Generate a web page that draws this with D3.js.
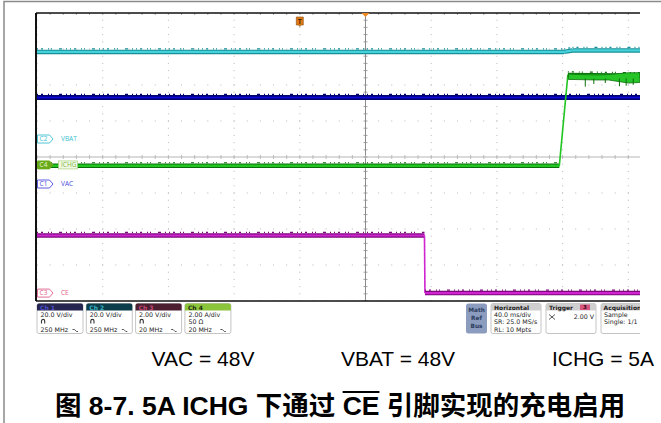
<!DOCTYPE html>
<html lang="zh">
<head>
<meta charset="UTF-8">
<title>CE charge enable</title>
<style>
  body { margin: 0; background: #fff; }
  svg { display: block; font-family: "Liberation Sans", Arial, sans-serif; }
</style>
</head>
<body>
<script src="https://d3js.org/d3.v7.min.js"></script>
<script>
// scope settings: 40 ms/div, trigger centred, screen cropped near +167 ms
var timeDomain = [-200, 200];
var divDomain = [-4, 4];

// traces, [time ms, value in channel units]
var vac = [[-200, 48.0], [170, 48.0]];
var vbat = [[-200, 48.4], [121, 48.4], [126, 49.2], [170, 49.2]];
var ce = [[-200, 3.2], [35.9, 3.2], [36.2, 0], [170, 0]];
var ichg = [[-200, -0.05], [118, -0.05], [123.2, 5.0], [170, 4.95]];

// noise envelope on ICHG once charging starts
var ichgBandT  = [123.5, 130, 140, 148, 155, 160, 167];
var ichgBandHi = [5.05, 5.02, 5.0, 5.02, 5.08, 5.12, 5.12];
var ichgBandLo = [4.75, 4.74, 4.72, 4.72, 4.62, 4.55, 4.58];
var ichgSpikes = [[133.8, 4.35], [139, 4.5], [146, 4.55], [154.6, 4.37], [158.7, 4.4], [163, 4.45]];

// channels
var chIds = ["C1", "C2", "C3", "C4"];
var chNames = ["VAC", "VBAT", "CE", "ICHG"];
var chPerDiv = [20, 20, 2, 2];
var chOffsetDiv = [-0.75, 0.5, -3.78, -0.22];

// readout panels
var panelTitles = ["Ch 1", "Ch 2", "Ch 3", "Ch 4"];
var panelScales = ["20.0 V/div", "20.0 V/div", "2.00 V/div", "2.00 A/div"];
var panelBw = ["250 MHz", "250 MHz", "20 MHz", "20 MHz"];
var ch4Term = "50 \u03A9";
var horizLines = ["40.0 ms/div", "SR: 25.0 MS/s", "RL: 10 Mpts"];
var trigLevel = "2.00 V";
var trigSource = "3";
var acqLines = ["Sample", "Single: 1/1"];

var notes = ["VAC = 48V", "VBAT = 48V", "ICHG = 5A"];
var captionParts = ["\u56FE 8-7. 5A ICHG \u4E0B\u901A\u8FC7 ", "CE", " \u5F15\u811A\u5B9E\u73B0\u7684\u5145\u7535\u542F\u7528"];

var W = 661, H = 423;
var plot = {left: 36, right: 640, top: 13, bottom: 301};

var x = d3.scaleLinear().domain(timeDomain).range([37, 694]);
var yDiv = d3.scaleLinear().domain(divDomain).range([plot.bottom, plot.top]);
function yCh(i) { return function(v) { return yDiv(v / chPerDiv[i] + chOffsetDiv[i]); }; }

var svg = d3.select("body").append("svg")
    .attr("width", W).attr("height", H);

// outer frame
svg.append("path").attr("d", "M4,423V1.5H661")
    .attr("fill", "none").attr("stroke", "#8a8a8a").attr("stroke-width", 1.5);

svg.append("clipPath").attr("id", "plotclip")
  .append("rect").attr("x", plot.left).attr("y", plot.top)
    .attr("width", plot.right - plot.left).attr("height", plot.bottom - plot.top);

var g = svg.append("g").attr("clip-path", "url(#plotclip)");

// grid
var xDivs = d3.range(-200, 201, 40), yDivs = d3.range(-4, 5, 1);
var grid = g.append("g").attr("fill", "#b8b8b8");
xDivs.forEach(function(t) {
  if (t === 0) return;
  d3.range(-4, 4.01, 0.2).forEach(function(d) {
    grid.append("rect").attr("x", x(t) - 0.5).attr("y", yDiv(d) - 0.5).attr("width", 1).attr("height", 1);
  });
});
yDivs.forEach(function(d) {
  if (d === 0) return;
  d3.range(-200, 200.01, 8).forEach(function(t) {
    grid.append("rect").attr("x", x(t) - 0.5).attr("y", yDiv(d) - 0.5).attr("width", 1).attr("height", 1);
  });
});
// centre lines with minor ticks
g.append("line").attr("x1", x(0)).attr("x2", x(0)).attr("y1", plot.top).attr("y2", plot.bottom)
    .attr("stroke", "#8c8c8c").attr("stroke-width", 1);
g.append("line").attr("x1", plot.left).attr("x2", plot.right).attr("y1", yDiv(0)).attr("y2", yDiv(0))
    .attr("stroke", "#b5b5b5").attr("stroke-width", 1);
g.append("g").selectAll("line").data(d3.range(-4, 4.01, 0.2)).join("line")
    .attr("x1", x(0) - 2).attr("x2", x(0) + 2).attr("y1", yDiv).attr("y2", yDiv)
    .attr("stroke", "#8c8c8c").attr("stroke-width", 0.8);
g.append("g").selectAll("line").data(d3.range(-200, 200.01, 8)).join("line")
    .attr("x1", x).attr("x2", x).attr("y1", yDiv(0) - 2).attr("y2", yDiv(0) + 2)
    .attr("stroke", "#b0b0b0").attr("stroke-width", 0.8);
// border ticks
g.append("g").selectAll("line").data(d3.range(-200, 200.01, 8)).join("line")
    .attr("x1", x).attr("x2", x).attr("y1", plot.top).attr("y2", plot.top + 2)
    .attr("stroke", "#999").attr("stroke-width", 0.8);

// traces
var traceStyles = [
  {data: vac, ch: 0, outer: "#00006e", inner: "#0a0acc", wOut: 5, wIn: 2},
  {data: vbat, ch: 1, outer: "#178e98", inner: "#46d2da", wOut: 4.5, wIn: 2.2},
  {data: ce, ch: 2, outer: "#7c087c", inner: "#d024d0", wOut: 4.5, wIn: 2.2},
  {data: ichg, ch: 3, outer: "#0b6e0b", inner: "#22c622", wOut: 4.5, wIn: 2.4}
];

function drawTrace(s) {
  var yf = yCh(s.ch);
  var pts = s.data.map(function(d) { return [x(d[0]), yf(d[1])]; });
  var tg = g.append("g").attr("fill", "none").attr("stroke-linecap", "butt");
  for (var i = 0; i < pts.length - 1; i++) {
    var a = pts[i], b = pts[i + 1];
    var steep = Math.abs(b[1] - a[1]) > Math.abs(b[0] - a[0]);
    if (steep) {
      tg.append("line").attr("x1", a[0]).attr("y1", a[1]).attr("x2", b[0]).attr("y2", b[1])
        .attr("stroke", s.inner).attr("stroke-width", 1.6);
    } else {
      tg.append("line").attr("x1", a[0]).attr("y1", a[1]).attr("x2", b[0]).attr("y2", b[1])
        .attr("stroke", s.outer).attr("stroke-width", s.wOut);
      tg.append("line").attr("x1", a[0]).attr("y1", a[1]).attr("x2", b[0]).attr("y2", b[1])
        .attr("stroke", s.inner).attr("stroke-width", s.wIn);
      // little noise dashes riding on the trace
      tg.append("line").attr("x1", a[0]).attr("y1", a[1] - s.wOut / 2 - 0.8)
        .attr("x2", b[0]).attr("y2", b[1] - s.wOut / 2 - 0.8)
        .attr("stroke", s.outer).attr("stroke-width", 1.2)
        .attr("stroke-dasharray", "1 3 2 5 1 2 1 7 3 4 1 3");
    }
  }
}
traceStyles.forEach(drawTrace);

// ICHG noise band
var y4 = yCh(3);
var band = ichgBandT.map(function(t, i) { return {t: t, hi: ichgBandHi[i], lo: ichgBandLo[i]}; });
g.append("path").datum(band)
    .attr("d", d3.area().x(function(d) { return x(d.t); })
      .y0(function(d) { return y4(d.lo); }).y1(function(d) { return y4(d.hi); }))
    .attr("fill", "#26c426").attr("stroke", "#0b6e0b").attr("stroke-width", 0.8);
g.append("g").selectAll("line").data(ichgSpikes).join("line")
    .attr("x1", function(d) { return x(d[0]); }).attr("x2", function(d) { return x(d[0]); })
    .attr("y1", y4(4.8)).attr("y2", function(d) { return y4(d[1]); })
    .attr("stroke", "#0b6e0b").attr("stroke-width", 1);

// plot frame
svg.append("line").attr("x1", plot.left).attr("x2", plot.right).attr("y1", plot.top).attr("y2", plot.top)
    .attr("stroke", "#111").attr("stroke-width", 1.5);
svg.append("line").attr("x1", plot.left).attr("x2", plot.left).attr("y1", plot.top).attr("y2", plot.bottom)
    .attr("stroke", "#111").attr("stroke-width", 2);
svg.append("line").attr("x1", plot.left).attr("x2", plot.right).attr("y1", plot.bottom).attr("y2", plot.bottom)
    .attr("stroke", "#111").attr("stroke-width", 1.5);

// position and trigger markers
svg.append("path").attr("d", "M" + (x(0) - 4) + "," + plot.top + "h8l-4,4z").attr("fill", "#f08a20");
var trigX = x(-40);
svg.append("path").attr("d", "M" + (trigX - 3.5) + ",17h7v8h-2.5l-1,1.5l-1,-1.5h-2.5z")
    .attr("fill", "#e07b18").attr("stroke", "#8a4a0a").attr("stroke-width", 0.6);
svg.append("text").attr("x", trigX).attr("y", 23.8).attr("text-anchor", "middle")
    .attr("font-size", 6.5).attr("font-weight", "bold").attr("fill", "#3a2205").text("T");

// channel markers on the left
var chColors = ["#4a4ae0", "#3cbfd0", "#e0608a", "#6aaa1a"];
var chLabelY = chOffsetDiv.map(function(d) { return yDiv(d); });
chIds.forEach(function(id, i) {
  var yy = chLabelY[i];
  var filled = (i === 3);
  svg.append("path").attr("d", "M37.5," + (yy - 4) + "h12l3.5,4l-3.5,4h-12z")
    .attr("fill", filled ? chColors[i] : "#fff").attr("stroke", chColors[i]).attr("stroke-width", 0.9);
  svg.append("text").attr("x", 43.5).attr("y", yy + 2.4).attr("text-anchor", "middle")
    .attr("font-family", "Open Sans, sans-serif").attr("font-size", 6.5)
    .attr("fill", filled ? "#e9f6d6" : chColors[i]).text(id);
  if (filled) {
    svg.append("rect").attr("x", 58.5).attr("y", yy - 4).attr("width", 19).attr("height", 8)
      .attr("fill", "#f1f8e6").attr("stroke", "#a9d07c").attr("stroke-width", 0.7);
  }
  svg.append("text").attr("x", 61).attr("y", yy + 2.4)
    .attr("font-family", "Open Sans, sans-serif").attr("font-size", 6.5)
    .attr("fill", filled ? "#7fb83c" : chColors[i]).text(chNames[i]);
});

// readout panels
var panelFont = "DejaVu Sans, sans-serif";
var fs = 6.3, lineGap = 7.4;
var headFills = ["#25254f", "#0c3d4a", "#4b1f30", "#8cc43c"];
var headText = ["#4f4fd0", "#3ab5c6", "#c84a78", "#1e2a10"];
function panelBox(x0, w, head, headFill, headColor) {
  var pg = svg.append("g");
  pg.append("rect").attr("x", x0).attr("y", 303.5).attr("width", w).attr("height", 30)
    .attr("rx", 2).attr("fill", "#fff").attr("stroke", "#b5b5b5").attr("stroke-width", 0.8);
  pg.append("path").attr("d", "M" + x0 + ",310.5V305.5a2,2 0 0 1 2,-2h" + (w - 4) + "a2,2 0 0 1 2,2V310.5z")
    .attr("fill", headFill);
  pg.append("text").attr("x", x0 + 3).attr("y", 309.5).attr("font-family", panelFont)
    .attr("font-size", 6).attr("font-weight", "bold").attr("fill", headColor).text(head);
  return pg;
}
function bodyLine(pg, x0, yy, str) {
  pg.append("text").attr("x", x0).attr("y", yy).attr("font-family", panelFont)
    .attr("font-size", fs).attr("fill", "#222").text(str);
}
panelTitles.forEach(function(t, i) {
  var x0 = 37 + i * 49.3;
  var pg = panelBox(x0, 46, t, headFills[i], headText[i]);
  bodyLine(pg, x0 + 3.5, 317, panelScales[i]);
  if (i === 3) bodyLine(pg, x0 + 3.5, 317 + lineGap, ch4Term);
  else pg.append("path").attr("d", "M" + (x0 + 4.5) + ",323.5v-2.5a1.6,1.6 0 0 1 3.2,0v2.5")
    .attr("fill", "none").attr("stroke", "#333").attr("stroke-width", 1.1);
  bodyLine(pg, x0 + 3.5, 317 + 2 * lineGap, panelBw[i]);
  pg.append("path").attr("d", "M" + (x0 + 35.5) + ",329.5h2l2,2h1.5")
    .attr("fill", "none").attr("stroke", "#333").attr("stroke-width", 0.8);
});

// math / ref / bus button
svg.append("rect").attr("x", 466).attr("y", 303.5).attr("width", 21).attr("height", 30)
  .attr("rx", 2.5).attr("fill", "#8b9cbf");
["Math", "Ref", "Bus"].forEach(function(s, i) {
  svg.append("text").attr("x", 476.5).attr("y", 312 + i * 8).attr("text-anchor", "middle")
    .attr("font-family", panelFont).attr("font-size", 5.8).attr("font-weight", "bold")
    .attr("fill", "#2c3c5e").text(s);
});

var hp = panelBox(491, 50, "Horizontal", "#cfcfcf", "#222");
horizLines.forEach(function(s, i) { bodyLine(hp, 494, 317 + i * lineGap, s); });

var tp = panelBox(546, 50, "Trigger", "#cfcfcf", "#222");
tp.append("rect").attr("x", 580).attr("y", 304.5).attr("width", 10).attr("height", 5.5).attr("fill", "#d6557e");
tp.append("text").attr("x", 585).attr("y", 309.3).attr("text-anchor", "middle").attr("font-family", panelFont)
  .attr("font-size", 5.5).attr("font-weight", "bold").attr("fill", "#3a0a1a").text(trigSource);
tp.append("path").attr("d", "M549,314.5l3,2.5l-3,2.5M555,314.5l-3,2.5l3,2.5")
  .attr("fill", "none").attr("stroke", "#333").attr("stroke-width", 0.8);
tp.append("text").attr("x", 594).attr("y", 319).attr("text-anchor", "end").attr("font-family", panelFont)
  .attr("font-size", fs).attr("fill", "#222").text(trigLevel);

svg.append("clipPath").attr("id", "acqclip").append("rect").attr("x", 598).attr("y", 300).attr("width", 42).attr("height", 40);
var acqG = svg.append("g").attr("clip-path", "url(#acqclip)");
acqG.append("rect").attr("x", 601).attr("y", 303.5).attr("width", 50).attr("height", 30)
  .attr("rx", 2).attr("fill", "#fff").attr("stroke", "#b5b5b5").attr("stroke-width", 0.8);
acqG.append("path").attr("d", "M601,310.5V305.5a2,2 0 0 1 2,-2h46a2,2 0 0 1 2,2V310.5z").attr("fill", "#cfcfcf");
acqG.append("text").attr("x", 603.5).attr("y", 309.5).attr("font-family", panelFont)
  .attr("font-size", 6).attr("font-weight", "bold").attr("fill", "#222").text("Acquisition");
acqLines.forEach(function(s, i) {
  acqG.append("text").attr("x", 604).attr("y", 317 + i * lineGap).attr("font-family", panelFont)
    .attr("font-size", fs).attr("fill", "#222").text(s);
});

// conditions line
var noteX = [203, 398, 603];
notes.forEach(function(s, i) {
  svg.append("text").attr("x", noteX[i]).attr("y", 366).attr("text-anchor", "middle")
    .attr("font-size", 21).attr("fill", "#000").text(s);
});

// caption with overlined CE
var cap = svg.append("text").attr("x", 55).attr("y", 415)
  .attr("font-family", "Liberation Sans, Noto Sans CJK SC, sans-serif")
  .attr("font-size", 26.5).attr("font-weight", "bold").attr("fill", "#000");
captionParts.forEach(function(s) { cap.append("tspan").text(s); });
var node = cap.node();
var ceStart = captionParts[0].length;
var p0 = node.getStartPositionOfChar(ceStart);
var ceW = node.getSubStringLength(ceStart, 2);
svg.append("line").attr("x1", p0.x).attr("x2", p0.x + ceW).attr("y1", 392).attr("y2", 392)
  .attr("stroke", "#000").attr("stroke-width", 1.8);
</script>
</body>
</html>
